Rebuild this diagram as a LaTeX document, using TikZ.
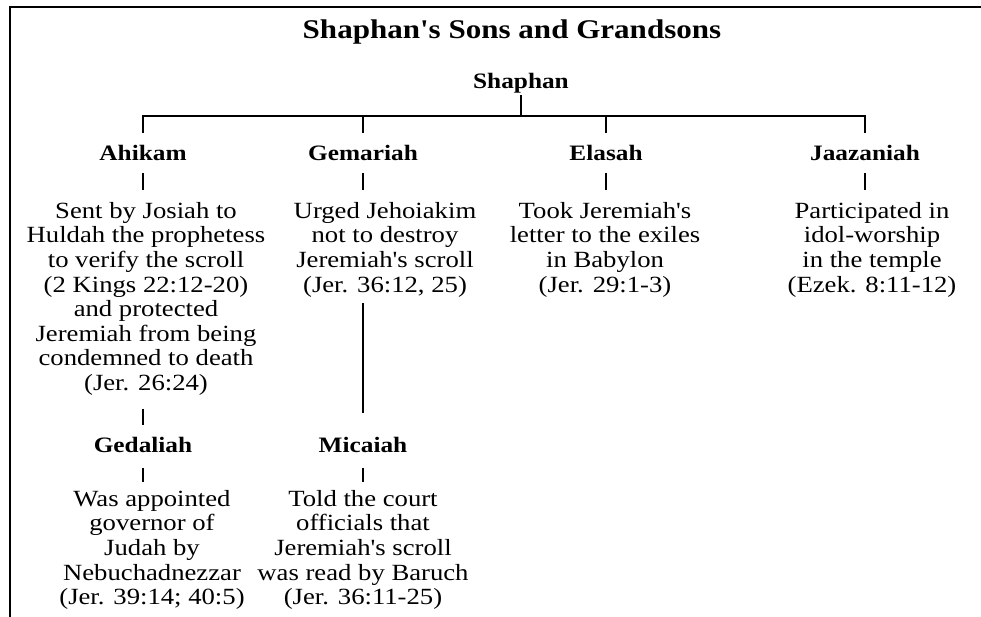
\documentclass[tikz,border=0pt]{standalone}
\usepackage{fontspec}
\setmainfont{Liberation Serif}[FakeStretch=1.15, Ligatures=TeXOff]
\usetikzlibrary{positioning}
\tikzset{%
	person/.style={
		font=\fontsize{22}{26}\selectfont\bfseries,
		inner sep=0pt,
		text height=14pt,
		text depth=0pt,
		anchor=base
	},
	deed/.style={
		font=\fontsize{23.2}{24.6}\selectfont,
		align=center,
		inner sep=0pt,
		anchor=north
	},
	link/.style={line width=1.5pt},
}

\begin{document}
\begin{tikzpicture}[x=1pt, y=-1pt]
	\useasboundingbox (0,0) rectangle (981,617);
	\draw[line width=2.3pt] (10,620) -- (10,7) -- (984,7);
	\node[font=\fontsize{27}{30}\selectfont\bfseries, anchor=base] (title) at (512,39) {Shaphan's Sons and Grandsons};
	% the family
	\node[person] (shaphan) at (521,89) {Shaphan};
	\node[person] (ahikam) at (143,161) {Ahikam};
	\node[person] (gemariah) at (363,161) {Gemariah};
	\node[person] (elasah) at (606,161) {Elasah};
	\node[person] (jaazaniah) at (865,161) {Jaazaniah};
	\node[person] (gedaliah) at (143,452) {Gedaliah};
	\node[person] (micaiah) at (363,452) {Micaiah};
	% what they did
	\node[deed] (ahikamdeed) at (146,202) {Sent by Josiah to\\Huldah the prophetess\\to verify the scroll\\(2 Kings 22:12-20)\\and protected\\Jeremiah from being\\condemned to death\\(Jer. 26:24)};
	\node[deed] (gemariahdeed) at (385,202) {Urged Jehoiakim\\not to destroy\\Jeremiah's scroll\\(Jer. 36:12, 25)};
	\node[deed] (elasahdeed) at (605,202) {Took Jeremiah's\\letter to the exiles\\in Babylon\\(Jer. 29:1-3)};
	\node[deed] (jaazaniahdeed) at (872,202) {Participated in\\idol-worship\\in the temple\\(Ezek. 8:11-12)};
	\node[deed] (gedaliahdeed) at (152,490) {Was appointed\\governor of\\Judah by\\Nebuchadnezzar\\(Jer. 39:14; 40:5)};
	\node[deed] (micaiahdeed) at (363,490) {Told the court\\officials that\\Jeremiah's scroll\\was read by Baruch\\(Jer. 36:11-25)};
	% the tree
	\coordinate (fork) at (521,116);
	\draw[link] ([yshift=-6pt]shaphan.south) -- (fork);
	\foreach \son in {ahikam,gemariah,elasah,jaazaniah}
		\draw[link] (fork) -| ([yshift=14pt]\son.north);
	\foreach \who in {ahikam,gemariah,elasah,jaazaniah}
		\draw[link, shorten <=12pt, shorten >=12pt] (\who.south) -- (\who.south |- \who deed.north);
	\foreach \who in {gedaliah,micaiah}
		\draw[link, shorten <=16pt, shorten >=8pt] (\who.south) -- (\who.south |- \who deed.north);
	\draw[link, shorten <=13pt, shorten >=13pt] (ahikamdeed.south -| ahikam.south) -- (gedaliah.north);
	\draw[link, shorten <=6pt, shorten >=25pt] (gemariahdeed.south -| gemariah.south) -- (micaiah.north);
\end{tikzpicture}
\end{document}
